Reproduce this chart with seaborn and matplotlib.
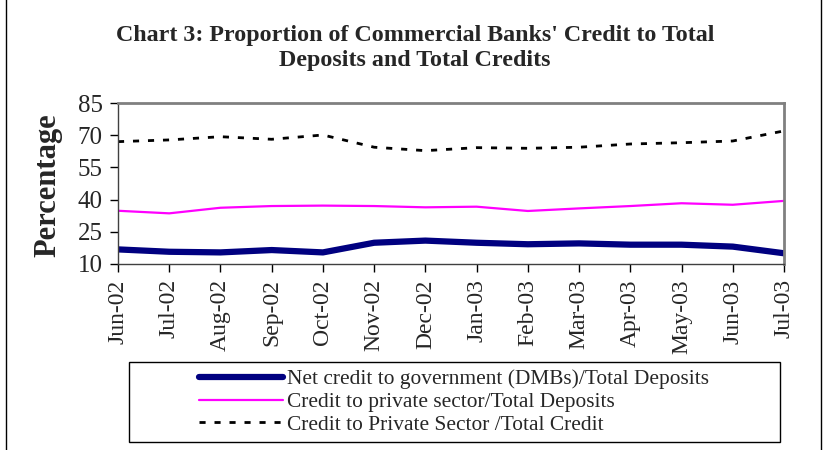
import matplotlib
matplotlib.use("Agg")
import matplotlib.pyplot as plt
import seaborn as sns
import pandas as pd
from matplotlib.patches import Rectangle

months = ["Jun-02", "Jul-02", "Aug-02", "Sep-02", "Oct-02", "Nov-02", "Dec-02",
          "Jan-03", "Feb-03", "Mar-03", "Apr-03", "May-03", "Jun-03", "Jul-03"]
net_credit_gov = [16.8, 15.7, 15.4, 16.5, 15.4, 19.9, 20.9, 19.9, 19.2, 19.6, 19.0, 19.0, 18.1, 15.0]
credit_priv_dep = [34.8, 33.6, 36.2, 37.0, 37.2, 37.0, 36.4, 36.7, 34.7, 35.9, 37.0, 38.3, 37.6, 39.4]
credit_priv_cred = [67.0, 67.8, 69.3, 68.1, 70.1, 64.4, 62.8, 64.2, 63.9, 64.4, 65.9, 66.5, 67.3, 72.0]
series_names = ["Net credit to government (DMBs)/Total Deposits",
                "Credit to private sector/Total Deposits",
                "Credit to Private Sector /Total Credit"]
yticks = [10, 25, 40, 55, 70, 85]

sns.set_style("white")
plt.rcParams['font.family'] = ['Liberation Serif', 'DejaVu Serif']

df = pd.DataFrame({"month": months, "idx": range(len(months)),
                   series_names[0]: net_credit_gov,
                   series_names[1]: credit_priv_dep,
                   series_names[2]: credit_priv_cred})

fig = plt.figure(figsize=(8.25, 4.5), dpi=100)
ax = fig.add_axes([118/825, 1 - 264/450, (784 - 118)/825, (264 - 103)/450])

sns.lineplot(data=df, x="idx", y=series_names[0], ax=ax, color="#000080", lw=4.5, label=series_names[0])
sns.lineplot(data=df, x="idx", y=series_names[1], ax=ax, color="#FF00FF", lw=1.6, label=series_names[1])
sns.lineplot(data=df, x="idx", y=series_names[2], ax=ax, color="black", lw=2.0,
             linestyle=(0, (2.2, 3.2)), label=series_names[2])

ax.set_xlim(0, len(months) - 1)
ax.set_ylim(10, 85)
ax.set_yticks(yticks)
ax.set_yticklabels([str(t) for t in yticks], fontsize=18)
ax.set_xticks(range(len(months)))
ax.set_xticklabels(months, rotation=90, fontsize=17)
ax.set_xlabel("")
ax.set_ylabel("Percentage", fontsize=22, fontweight="bold")
ax.yaxis.set_label_coords(-0.084, 0.49)
ax.tick_params(axis="both", direction="out", length=6, width=1, color="black", pad=5,
               bottom=True, left=True)
for side in ["top", "right"]:
    ax.spines[side].set_color("#808080")
    ax.spines[side].set_linewidth(2)
for side in ["left", "bottom"]:
    ax.spines[side].set_color("#404040")
    ax.spines[side].set_linewidth(1)

fig.text(415/825, 1 - 48/450, "Chart 3: Proportion of Commercial Banks' Credit to Total\nDeposits and Total Credits",
         ha="center", va="center", fontsize=17.3, fontweight="bold", linespacing=1.25)

leg = ax.legend(loc="center", bbox_to_anchor=(454/825, 1 - 402/450),
                bbox_transform=fig.transFigure, frameon=False,
                fontsize=15.4, handlelength=3.9, handletextpad=0.2,
                labelspacing=0.12, borderaxespad=0, borderpad=0)

fig.add_artist(Rectangle((129/825, 1 - 442/450), (780 - 129)/825, (442 - 362)/450,
                         transform=fig.transFigure, fill=False, edgecolor="black", lw=1))
fig.add_artist(Rectangle((6/825, -0.01), (821 - 6)/825, 1.05, transform=fig.transFigure,
                         fill=False, edgecolor="black", lw=1))

fig.savefig("out.png", dpi=100)
